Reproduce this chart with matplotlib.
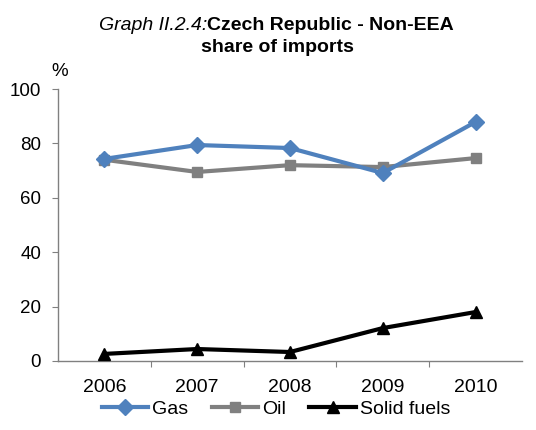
import matplotlib
matplotlib.use('Agg')
import matplotlib.pyplot as plt

plt.rcParams['font.family'] = ['Liberation Sans', 'DejaVu Sans']

years = ['2006', '2007', '2008', '2009', '2010']
gas = [74.3, 79.4, 78.3, 69.1, 87.9]
oil = [74.0, 69.5, 72.0, 71.3, 74.6]
solid_fuels = [2.6, 4.4, 3.3, 12.1, 18.0]

fig = plt.figure(figsize=(5.36, 4.30), dpi=100)
ax = fig.add_axes([0.108, 0.1605, 0.866, 0.6325])

x = range(len(years))
ax.plot(x, gas, color='#4F81BD', lw=3, marker='D', ms=8, label='Gas', zorder=3)
ax.plot(x, oil, color='#808080', lw=3, marker='s', ms=7, label='Oil', zorder=2)
ax.plot(x, solid_fuels, color='black', lw=3, marker='^', ms=9, label='Solid fuels', zorder=4)

ax.set_xlim(-0.5, 4.5)
ax.set_ylim(0, 100)
ax.set_yticks([0, 20, 40, 60, 80, 100])
# ticks sit between categories, labels under the categories
ax.set_xticks([i - 0.5 for i in range(1, 5)])
ax.set_xticklabels([])
ax.set_xticks(list(x), minor=True)
ax.set_xticklabels(years, minor=True)
ax.tick_params(axis='x', which='minor', length=0, pad=13, labelsize=14)
ax.tick_params(axis='x', which='major', length=4, color='#808080')
ax.tick_params(axis='y', length=4, color='#808080', labelsize=13.5, pad=8)

for s in ['top', 'right']:
    ax.spines[s].set_visible(False)
for s in ['left', 'bottom']:
    ax.spines[s].set_color('#808080')
    ax.spines[s].set_linewidth(1)

fig.text(207 / 536, 1 - 25 / 430, 'Graph II.2.4:', style='italic', fontsize=14,
         ha='right', va='center')
fig.text(207 / 536, 1 - 25 / 430, 'Czech Republic - Non-EEA', weight='bold', fontsize=14,
         ha='left', va='center')
fig.text(277 / 536, 1 - 47 / 430, 'share of imports', weight='bold', fontsize=14,
         ha='center', va='center')
fig.text(60 / 536, 1 - 71 / 430, '%', fontsize=13.5, ha='center', va='center')

fig.legend(loc='center', bbox_to_anchor=(0.515, 1 - 409 / 430), ncol=3, frameon=False,
           fontsize=14, handlelength=2.4, handletextpad=0.2, columnspacing=1.2)

fig.savefig('out.png', dpi=100)
